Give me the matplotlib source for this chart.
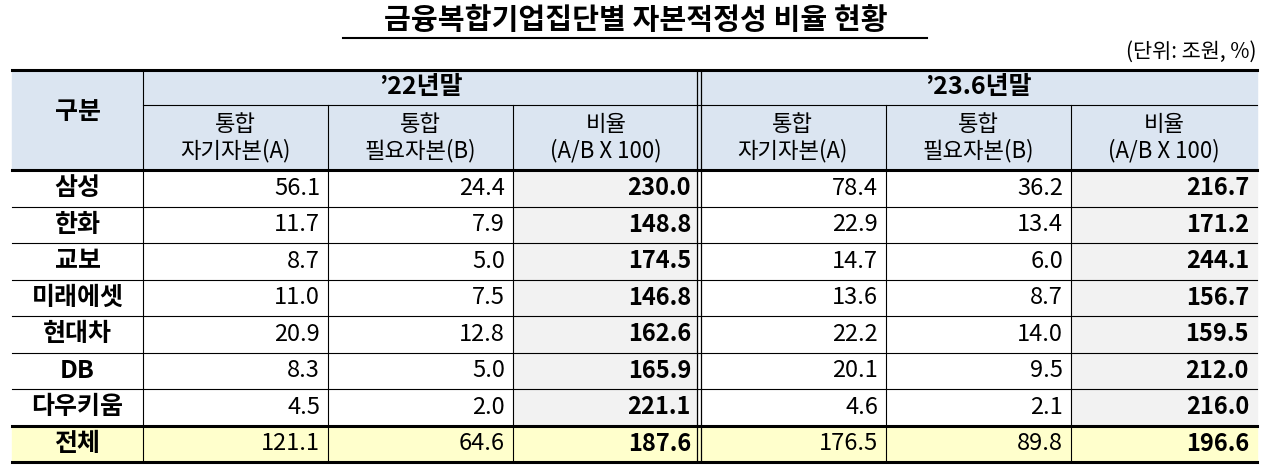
import matplotlib
matplotlib.use("Agg")
import matplotlib.pyplot as plt
from matplotlib.patches import Rectangle

plt.rcParams['font.family'] = ['Noto Sans CJK KR', 'DejaVu Sans']

title = "금융복합기업집단별 자본적정성 비율 현황"
unit = "(단위: 조원, %)"
groups = ["’22년말", "’23.6년말"]
sub_headers = ["통합\n자기자본(A)", "통합\n필요자본(B)", "비율\n(A/B X 100)"]
categories = ["삼성", "한화", "교보", "미래에셋", "현대차", "DB", "다우키움", "전체"]
own_22 = [56.1, 11.7, 8.7, 11.0, 20.9, 8.3, 4.5, 121.1]
req_22 = [24.4, 7.9, 5.0, 7.5, 12.8, 5.0, 2.0, 64.6]
ratio_22 = [230.0, 148.8, 174.5, 146.8, 162.6, 165.9, 221.1, 187.6]
own_23 = [78.4, 22.9, 14.7, 13.6, 22.2, 20.1, 4.6, 176.5]
req_23 = [36.2, 13.4, 6.0, 8.7, 14.0, 9.5, 2.1, 89.8]
ratio_23 = [216.7, 171.2, 244.1, 156.7, 159.5, 212.0, 216.0, 196.6]

fig = plt.figure(figsize=(12.8, 4.73), dpi=100)
ax = fig.add_axes([0, 0, 1, 1])
ax.set_xlim(0, 1280); ax.set_ylim(473, 0); ax.axis('off')

xs = [12, 143, 328, 513, 699, 886, 1071, 1257]
y0, y1, y2 = 70, 105, 170
rh = 36.5
HB = '#dbe5f1'; GR = '#f2f2f2'; YL = '#ffffcc'

ax.text(636, 20, title, ha='center', va='center', fontsize=21, fontweight='bold')
ax.plot([343, 927], [38, 38], color='black', lw=1.5)
ax.text(1257, 52, unit, ha='right', va='center', fontsize=15)

ax.add_patch(Rectangle((xs[0], y0), xs[-1]-xs[0], y2-y0, color=HB, zorder=0))
cols = [own_22, req_22, ratio_22, own_23, req_23, ratio_23]
for r in range(len(categories)):
    top = y2 + r*rh
    total = r == len(categories)-1
    for c in range(6):
        bg = YL if total else (GR if c in (2, 5) else 'white')
        ax.add_patch(Rectangle((xs[c+1], top), xs[c+2]-xs[c+1], rh, color=bg, zorder=0))
        ax.text(xs[c+2]-8, top+rh/2, f"{cols[c][r]:.1f}", ha='right', va='center',
                fontsize=17, fontweight='bold' if c in (2, 5) else 'normal')
    if total:
        ax.add_patch(Rectangle((xs[0], top), xs[1]-xs[0], rh, color=YL, zorder=0))
    ax.text((xs[0]+xs[1])/2, top+rh/2, categories[r], ha='center', va='center',
            fontsize=18, fontweight='bold')

ax.text((xs[0]+xs[1])/2, (y0+y2)/2-8, "구분", ha='center', va='center', fontsize=18, fontweight='bold')
for g in range(2):
    ax.text((xs[1+3*g]+xs[4+3*g])/2, (y0+y1)/2, groups[g], ha='center', va='center',
            fontsize=18, fontweight='bold')
    for k in range(3):
        c = 1+3*g+k
        ax.text((xs[c]+xs[c+1])/2, (y1+y2)/2, sub_headers[k], ha='center', va='center',
                fontsize=16, fontweight='medium', linespacing=1.15)

bottom = y2 + rh*len(categories)
for i in range(len(categories)+1):
    y = y2 + i*rh
    lw = 2.2 if i in (0, len(categories)-1, len(categories)) else 0.8
    ax.plot([xs[0], xs[-1]], [y, y], color='black', lw=lw)
ax.plot([xs[0], xs[-1]], [y0, y0], color='black', lw=2.2)
ax.plot([xs[1], xs[-1]], [y1, y1], color='black', lw=0.8)
for i, x in enumerate(xs):
    if i in (0, len(xs)-1):
        continue
    ytop = y1 if i in (2, 3, 5, 6) else y0
    if i == 4:
        ax.plot([x-2, x-2], [y0, bottom], color='black', lw=0.9)
        ax.plot([x+2, x+2], [y0, bottom], color='black', lw=0.9)
    else:
        ax.plot([x, x], [ytop, bottom], color='black', lw=0.8)

fig.savefig('out.png', dpi=100)
